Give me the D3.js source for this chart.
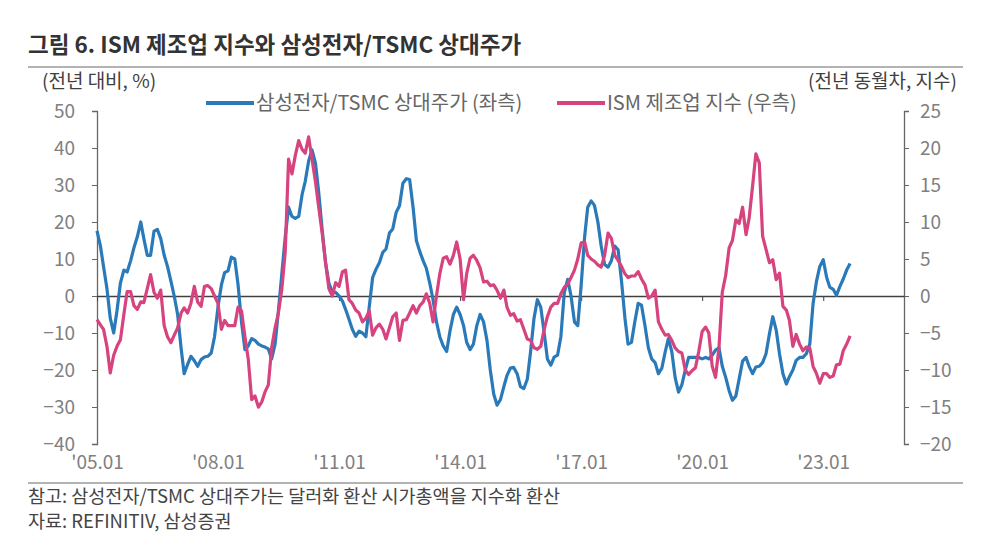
<!DOCTYPE html>
<html>
<head>
<meta charset="utf-8">
<script src="https://cdn.jsdelivr.net/npm/d3@7"></script>
<style>
  html, body { margin: 0; padding: 0; background: #fff; }
  svg text { font-family: "Noto Sans CJK KR", "Noto Sans", sans-serif; }
</style>
</head>
<body>
<svg id="chart" width="993" height="548"></svg>
<script>
// monthly series, first value = 2005.01
var startMonth = new Date(2005, 0, 1);

// 삼성전자/TSMC 상대주가, 전년 대비 % (left axis)
var samsungTsmc = [
  17.6, 13.5, 8, 2, -6, -10, -4, 3.5, 7, 6.5, 9.5, 13,
  16, 20, 15.5, 11, 11, 17.5, 18, 15.5, 11, 8, 4, 0,
  -5, -14, -21, -18.5, -16.3, -17.5, -19, -17.2, -16.5, -16.3, -15.4, -11,
  -3, 3, 6.3, 6.8, 10.5, 10, 3, -7, -14.5, -13.5, -11.5, -12,
  -13, -13.5, -13.8, -14.3, -17, -13, -4, 6, 16, 24, 21.5, 21,
  21.5, 27.5, 31, 36.5, 39.5, 36, 28, 18, 9, 3.5, 1, 1,
  0, -1.4, -3.6, -6.3, -9, -10.9, -9.5, -10, -11, -3, 5, 7.2,
  9, 11.8, 12.7, 17, 18.1, 22.6, 24.4, 30.5, 31.7, 31.5, 24, 15,
  12, 9.5, 7.5, 3.5, -1, -7, -11, -13.5, -15, -9.5, -5, -3,
  -5, -8, -12.5, -14.5, -13, -8, -5, -7, -12, -20, -26.5, -29.5,
  -28, -24.5, -21.5, -19.5, -19.3, -21, -24.5, -25, -22.5, -15, -6, -1,
  -3, -10, -17, -18.7, -16.5, -16, -11, 1, 4.5, 0, -7, -8,
  3, 16, 24, 25.7, 24.5, 20, 13.5, 8.5, 7.8, 9.5, 13.5, 12.5,
  4, -6, -13, -12.5, -7, -2, -2.5, -8, -14, -17, -18, -21,
  -19.5, -15, -11.5, -15, -22, -26, -24, -20, -16.6, -16.6, -16.6, -16.6,
  -17, -16.6, -17, -16, -14.6, -14, -19, -22, -25.6, -28.2, -27, -22.4,
  -17.6, -16.6, -19, -21, -19.2, -19, -18, -15.6, -10.2, -5.6, -9.2, -15.6,
  -21, -23.8, -21.8, -20, -17.4, -16.6, -16.6, -15.6, -13, -2, 4, 8,
  9.8, 5, 2.4, 1.8, 0.2, 2.6, 4.6, 7, 8.8
];

// ISM 제조업 지수, 전년 동월차 (right axis)
var ismMfg = [
  -3.2, -3.9, -4.5, -6.8, -10.4, -8, -6.8, -5.9, -2.5, 0.6, 0.6, -1.3,
  -1.8, -0.8, -0.9, 1, 2.9, 0.5, -0.3, 0.8, -4, -5.5, -6.3, -5.3,
  -4.3, -2.3, -1.6, -2.3, -1, 1.3, -0.8, -1.4, 1.3, 1.4, 1, 0,
  -1, -4.5, -3.3, -4, -4, -4, -1.5, -2, -5.5, -8.5, -14, -13.5,
  -15, -14.3, -13, -12, -7, -4.3, -2.3, 0.9, 6, 18.5, 16.5, 19,
  21, 19.8, 19.3, 21.5, 18.5, 15.5, 12, 8.5, 4.5, 1, 0, 1.8,
  1.3, 3.3, 3.5, -0.5, -1, -1.9, -2.3, -3.5, -3, -2, -5.3, -4.3,
  -3.8, -4.5, -5.8, -4.3, -2.8, -2.3, -6, -3.3, -3.2, -2.3, -1.3, -2.3,
  -1.3, -0.8, 0.3, -1, -3.5, 0, 3, 5.1, 5.3, 4.3, 5.5, 7.3,
  5, -0.5, 3, 5.1, 5.5, 4.8, 3.8, 1.9, 2, 1.4, 1.5, 0.8,
  -0.3, 0.8, -1.5, -2.6, -2.4, -3.4, -3.2, -4.5, -5.8, -6, -7, -7.2,
  -6.8, -4.5, -2.8, -1.5, -1, -1, 0.3, 1.2, 1.6, 2.5, 3.5, 5,
  7.2, 7.3, 5.5, 5, 4.7, 4.2, 3.9, 5.5, 8.5, 7.8, 5.5, 4.8,
  4, 3, 2.5, 2.7, 2.7, 3.3, 2.3, 1.5, -0.3, 0, 0.8, -3.5,
  -4.5, -5.3, -5.2, -6, -7, -7.5, -7.7, -10, -10.6, -10.1, -9.7, -7.5,
  -4.8, -4.2, -5, -9.5, -11, -7, 0.5, 2.8, 6.5, 7.5, 10.3, 9.8,
  12, 8.3, 10.5, 14.8, 19.2, 18, 8.1, 6.3, 4.5, 4.9, 2.2, 3.1,
  -1.4, -1.9, -3.3, -6.8, -5.2, -6.5, -7.4, -6.9, -7, -9.5, -10.5, -11.8,
  -10.5, -10.5, -11, -10.8, -9.3, -9.2, -7.4, -6.5, -5.4
];

var leftTicks = [50, 40, 30, 20, 10, 0, -10, -20, -30, -40];
var rightTicks = [25, 20, 15, 10, 5, 0, -5, -10, -15, -20];
var xTickYears = [2005, 2008, 2011, 2014, 2017, 2020, 2023];

var seriesNames = ["삼성전자/TSMC 상대주가 (좌측)", "ISM 제조업 지수 (우측)"];
var seriesColors = ["#2a79b8", "#d6437e"];

var svg = d3.select("#chart");

var x = d3.scaleTime()
    .domain([new Date(2005, 0, 1), new Date(2025, 0, 1)])
    .range([97, 904]);
var yLeft = d3.scaleLinear().domain([-40, 50]).range([444, 111]);
var yRight = d3.scaleLinear().domain([-20, 25]).range([444, 111]);

function monthDate(i) {
    return d3.timeMonth.offset(startMonth, i);
}

// title + rules
svg.append("text")
    .attr("x", 28).attr("y", 53)
    .style("font-size", "22.5px").style("font-weight", "bold")
    .attr("fill", "#333")
    .text("그림 6. ISM 제조업 지수와 삼성전자/TSMC 상대주가");

svg.append("line").attr("x1", 28).attr("x2", 963).attr("y1", 67).attr("y2", 67)
    .attr("stroke", "#9a9a9a").attr("stroke-width", 1.5);
svg.append("line").attr("x1", 28).attr("x2", 963).attr("y1", 483).attr("y2", 483)
    .attr("stroke", "#9a9a9a").attr("stroke-width", 1.5);

svg.append("text").attr("x", 42).attr("y", 88)
    .style("font-size", "19px").attr("fill", "#404040")
    .text("(전년 대비, %)");
svg.append("text").attr("x", 957).attr("y", 88)
    .attr("text-anchor", "end")
    .style("font-size", "19px").attr("fill", "#404040")
    .text("(전년 동월차, 지수)");

// axes
var tickFont = function (g) {
    g.selectAll("text").style("font-size", "19px").attr("fill", "#808080");
    g.selectAll("line").attr("stroke", "#666");
    g.select(".domain").attr("stroke", "#666").attr("stroke-width", 1.3);
};

svg.append("g")
    .attr("transform", "translate(97,0)")
    .call(d3.axisLeft(yLeft).tickValues(leftTicks).tickSize(5).tickSizeOuter(5).tickPadding(17))
    .call(tickFont);

svg.append("g")
    .attr("transform", "translate(904,0)")
    .call(d3.axisRight(yRight).tickValues(rightTicks).tickSize(5).tickSizeOuter(5).tickPadding(11))
    .call(tickFont);

var xAxis = svg.append("g")
    .attr("transform", "translate(0," + yLeft(0) + ")")
    .call(d3.axisBottom(x)
        .tickValues(xTickYears.map(function (d) { return new Date(d, 0, 1); }))
        .tickFormat(d3.timeFormat("'%y.%m"))
        .tickSize(5).tickSizeOuter(0))
    .call(tickFont);
xAxis.select(".domain").attr("stroke", "#404040");
xAxis.selectAll("line").attr("stroke", "#404040");
xAxis.selectAll("text").attr("y", 173).attr("dy", 0);

// lines
var lineLeft = d3.line()
    .x(function (d, i) { return x(monthDate(i)); })
    .y(function (d) { return yLeft(d); });
var lineRight = d3.line()
    .x(function (d, i) { return x(monthDate(i)); })
    .y(function (d) { return yRight(d); });

svg.append("path").datum(samsungTsmc)
    .attr("d", lineLeft)
    .attr("fill", "none").attr("stroke", seriesColors[0])
    .attr("stroke-width", 3.2).attr("stroke-linejoin", "round");

svg.append("path").datum(ismMfg)
    .attr("d", lineRight)
    .attr("fill", "none").attr("stroke", seriesColors[1])
    .attr("stroke-width", 3.2).attr("stroke-linejoin", "round");

// legend
var legendX = [206, 557];
var legend = svg.selectAll(".legend")
    .data(seriesNames)
    .enter().append("g")
    .attr("class", "legend")
    .attr("transform", function (d, i) { return "translate(" + legendX[i] + ",103)"; });
legend.append("line")
    .attr("x1", 0).attr("x2", 48).attr("y1", 0).attr("y2", 0)
    .attr("stroke", function (d, i) { return seriesColors[i]; })
    .attr("stroke-width", 4);
legend.append("text")
    .attr("x", 50).attr("y", 7)
    .style("font-size", "20px").attr("fill", "#666")
    .text(function (d) { return d; });

// notes
svg.append("text").attr("x", 28).attr("y", 503)
    .style("font-size", "18.5px").attr("fill", "#444")
    .text("참고: 삼성전자/TSMC 상대주가는 달러화 환산 시가총액을 지수화 환산");
svg.append("text").attr("x", 28).attr("y", 528)
    .style("font-size", "18.5px").attr("fill", "#444")
    .text("자료: REFINITIV, 삼성증권");
</script>
</body>
</html>
